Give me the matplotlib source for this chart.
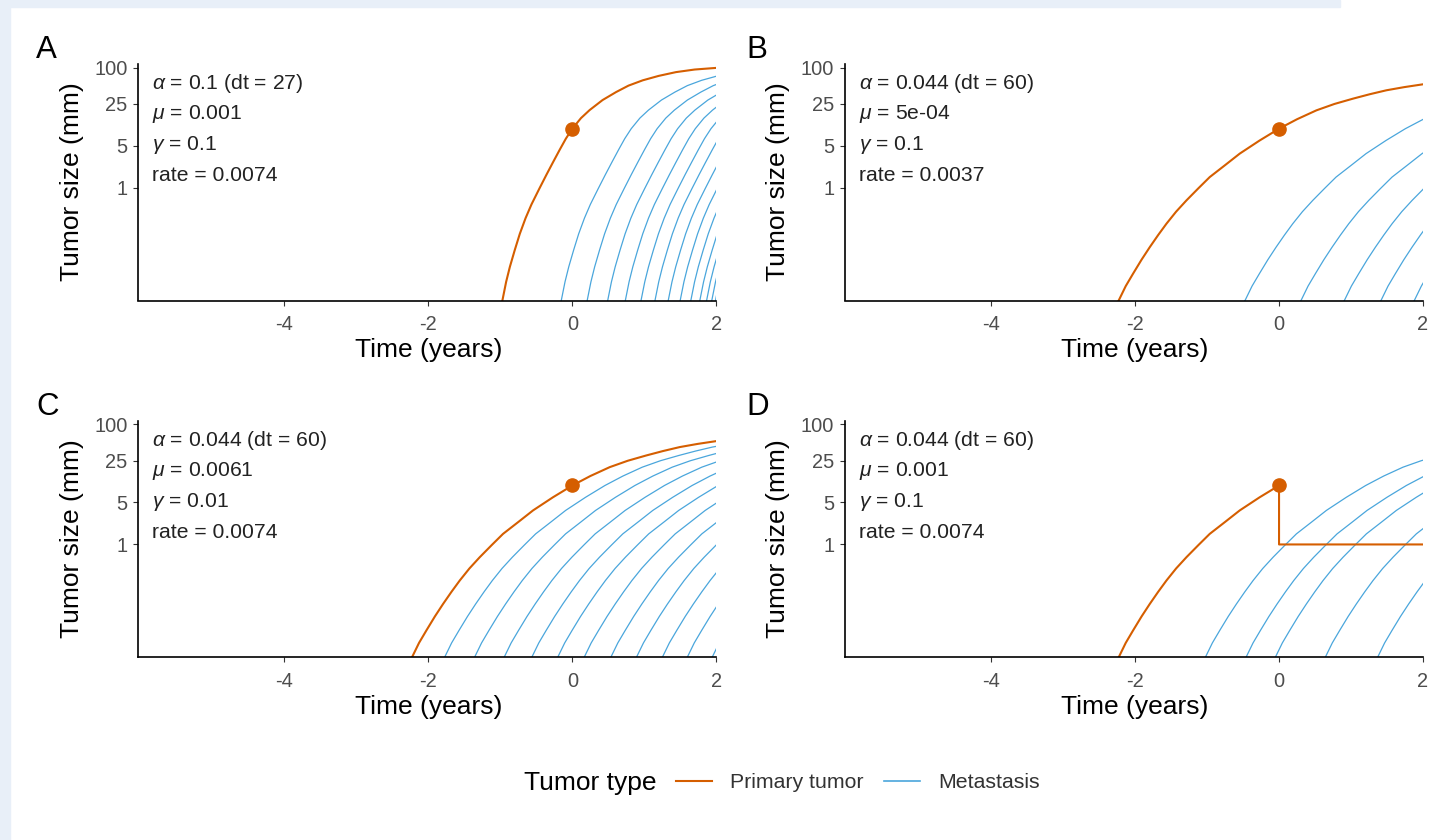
import numpy as np
import matplotlib.pyplot as plt
from matplotlib.lines import Line2D
from matplotlib.patches import Rectangle

plt.rcParams['font.family'] = ['Liberation Sans', 'DejaVu Sans']
plt.rcParams['mathtext.fontset'] = 'custom'
plt.rcParams['mathtext.rm'] = 'Liberation Sans'
plt.rcParams['mathtext.it'] = 'Liberation Sans:italic'

# primary tumour growth, alpha = 0.1 (panel A), size in mm
fast_t = [-1.03, -0.97, -0.92, -0.868, -0.80, -0.73, -0.65, -0.568, -0.46, -0.36, -0.27,
          -0.176, -0.09, 0.0, 0.12, 0.24, 0.42, 0.609, 0.78, 0.978, 1.2, 1.44, 1.7, 2.0]
fast_size = [0.0056, 0.0135, 0.0269, 0.0479, 0.0912, 0.170, 0.310, 0.525, 0.955, 1.64, 2.63,
             4.27, 6.55, 9.6, 14.4, 19.6, 28.8, 39.2, 50.1, 61.4, 72.8, 84.1, 92.9, 98.9]

# primary tumour growth, alpha = 0.044 (panels B, C, D)
slow_t = [-2.30, -2.222, -2.13, -2.028, -1.91, -1.796, -1.68, -1.564, -1.43, -1.286, -1.12,
          -0.963, -0.75, -0.546, -0.27, 0.0, 0.25, 0.519, 0.77, 1.028, 1.26, 1.492, 1.74, 2.0]
slow_size = [0.0091, 0.0136, 0.0229, 0.0369, 0.0631, 0.102, 0.162, 0.251, 0.398, 0.614, 0.977,
             1.50, 2.37, 3.69, 6.10, 9.6, 13.8, 19.4, 24.8, 30.4, 36.0, 41.9, 47.3, 52.7]

# panel D: primary after resection at t = 0
resect_t = [0.0, 0.0, 2.0]
resect_size = [9.6, 1.0, 1.0]

# diagnosis point
dot_t = 0.0
dot_size = 9.6

# metastasis seeding delays (years after the primary started growing)
delay_A = [0.818, 1.178, 1.463, 1.708, 1.926, 2.120, 2.304, 2.470, 2.618, 2.743, 2.837, 2.909, 2.961]
delay_B = [1.755, 2.533, 3.135, 3.644, 4.107]
delay_C = [0.453, 0.869, 1.28, 1.664, 2.024, 2.392, 2.762, 3.118, 3.478, 3.824, 4.17]
delay_D = [1.204, 1.769, 2.176, 2.870, 3.597]

labels_A = [r'$\alpha$ = 0.1 (dt = 27)', r'$\mu$ = 0.001', r'$\gamma$ = 0.1', 'rate = 0.0074']
labels_B = [r'$\alpha$ = 0.044 (dt = 60)', r'$\mu$ = 5e-04', r'$\gamma$ = 0.1', 'rate = 0.0037']
labels_C = [r'$\alpha$ = 0.044 (dt = 60)', r'$\mu$ = 0.0061', r'$\gamma$ = 0.01', 'rate = 0.0074']
labels_D = [r'$\alpha$ = 0.044 (dt = 60)', r'$\mu$ = 0.001', r'$\gamma$ = 0.1', 'rate = 0.0074']

y_ticks = [1, 5, 25, 100]
x_ticks = [-4, -2, 0, 2]

orange = '#D55E00'
blue = '#4AA6DC'

W, H = 1433, 840
fig = plt.figure(figsize=(W / 100, H / 100), dpi=100)

# light frame of the screenshot
fig.patches.append(Rectangle((0, 1 - 7 / H), 1340 / W, 7 / H, transform=fig.transFigure,
                             color='#E8EFF8', zorder=0))
fig.patches.append(Rectangle((0, 0), 10 / W, 1, transform=fig.transFigure,
                             color='#E8EFF8', zorder=0))


def fx(px):
    return px / W


def fy(py):
    return 1 - py / H


def panel(left, top, letter, letter_x, texts):
    w, h = 578, 236.5
    ax = fig.add_axes([fx(left), fy(top + h), w / W, h / H])
    ax.set_yscale('log')
    ax.set_xlim(-6.03, 2.0)
    ax.set_ylim(10 ** -1.88, 10 ** 2.06)
    ax.set_yticks(y_ticks)
    ax.set_yticklabels([str(v) for v in y_ticks])
    ax.yaxis.set_minor_locator(plt.NullLocator())
    ax.set_xticks(x_ticks)
    ax.set_xticklabels([str(v) for v in x_ticks])
    for s in ['top', 'right']:
        ax.spines[s].set_visible(False)
    for s in ['left', 'bottom']:
        ax.spines[s].set_linewidth(1.2)
        ax.spines[s].set_color('black')
    ax.tick_params(axis='both', length=3.8, width=0.8, color='#333333',
                   labelsize=14.4, labelcolor='#4D4D4D')
    ax.tick_params(axis='y', pad=4)
    ax.tick_params(axis='x', pad=7)
    ax.set_facecolor('none')

    fig.text(fx(left - 66.5), fy(top + 118), 'Tumor size (mm)', rotation=90,
             ha='center', va='center', fontsize=19)
    fig.text(fx(left + 290), fy(top + 286), 'Time (years)', ha='center', va='center',
             fontsize=19)
    fig.text(fx(letter_x), fy(top - 5.5), letter, ha='left', va='baseline', fontsize=22.5)
    for i, txt in enumerate(texts):
        fig.text(fx(left + 14), fy(top + 19.5 + 30.7 * i), txt, ha='left', va='center',
                 fontsize=15.2, color='#222222')
    return ax


def draw(ax, delays, met_t, met_size, prim_t, prim_size):
    for d in delays:
        ax.plot(np.array(met_t) + d, met_size, color=blue, lw=0.9, zorder=1)
    ax.plot(prim_t, prim_size, color=orange, lw=1.5, zorder=2)
    ax.plot(dot_t, dot_size, 'o', color=orange, ms=9.5, zorder=3)


axA = panel(138.3, 64, 'A', 36, labels_A)
draw(axA, delay_A, fast_t, fast_size, fast_t, fast_size)

axB = panel(845, 64, 'B', 746, labels_B)
draw(axB, delay_B, slow_t, slow_size, slow_t, slow_size)

axC = panel(138.3, 420.8, 'C', 36, labels_C)
draw(axC, delay_C, slow_t, slow_size, slow_t, slow_size)

# panel D: primary is removed at diagnosis, metastases keep growing
pre_t = [t for t in slow_t if t <= 0]
pre_size = slow_size[:len(pre_t)]
axD = panel(845, 420.8, 'D', 746, labels_D)
draw(axD, delay_D, slow_t, slow_size, pre_t + resect_t, pre_size + resect_size)

# legend
fig.text(fx(524), fy(783), 'Tumor type', ha='left', va='center', fontsize=19)
handles = [Line2D([], [], color=orange, lw=1.5), Line2D([], [], color=blue, lw=1.2)]
fig.legend(handles, ['Primary tumor', 'Metastasis'], loc='center left',
           bbox_to_anchor=(fx(676), fy(783)), ncol=2, frameon=False, fontsize=15.3,
           handlelength=1.7, handletextpad=0.85, columnspacing=0.95, borderpad=0,
           borderaxespad=0, labelcolor='#333333')

fig.savefig('out.png', dpi=100)
